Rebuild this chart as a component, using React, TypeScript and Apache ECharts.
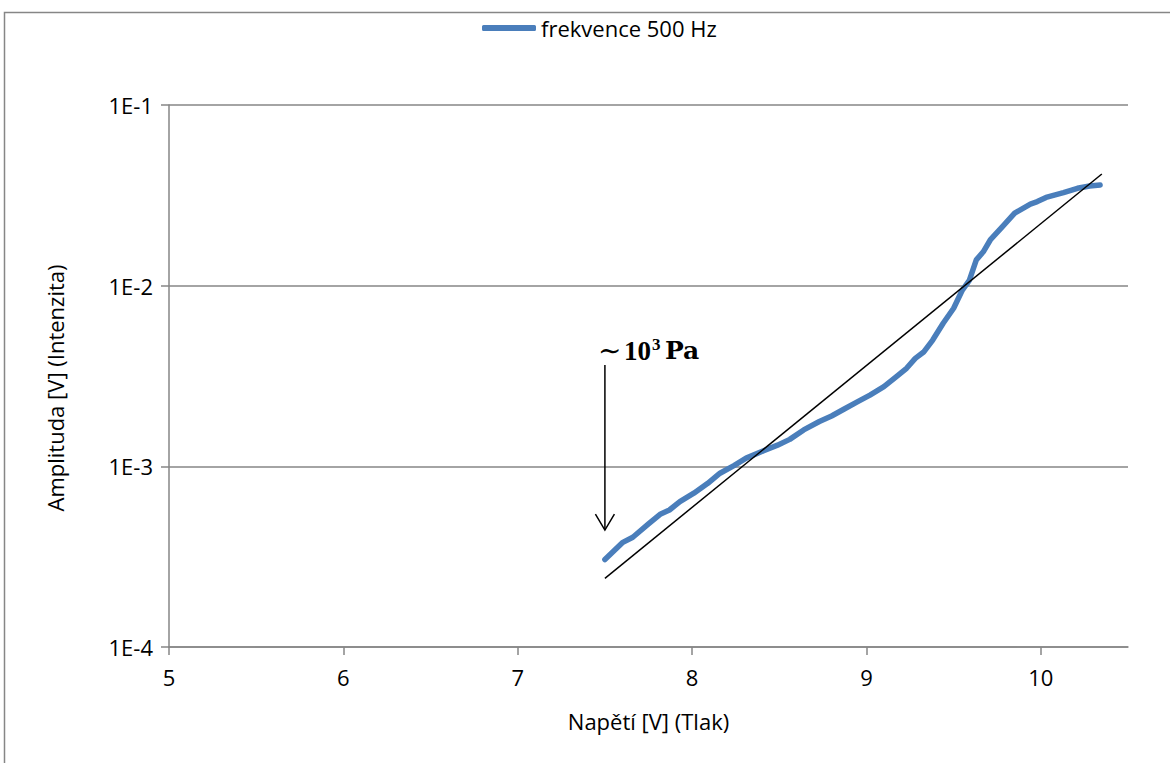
import React, { useEffect, useRef } from "react";
import * as echarts from "echarts";

// Measured series: frekvence 500 Hz (x = Napětí [V], y = Amplituda [V])
const seriesName = "frekvence 500 Hz";
const voltage = [
  7.5, 7.6, 7.66, 7.75, 7.82, 7.87, 7.93, 8.01, 8.09, 8.16, 8.24, 8.31, 8.41, 8.49,
  8.56, 8.64, 8.73, 8.8, 8.87, 8.95, 9.02, 9.1, 9.17, 9.23, 9.28, 9.33, 9.38, 9.44,
  9.5, 9.55, 9.59, 9.61, 9.63, 9.67, 9.71, 9.78, 9.85, 9.94, 9.98, 10.03, 10.13,
  10.21, 10.28, 10.34,
];
const amplitude = [
  3.05e-4, 3.78e-4, 4.05e-4, 4.8e-4, 5.45e-4, 5.73e-4, 6.37e-4, 7.1e-4, 8.05e-4,
  9.16e-4, 1.01e-3, 1.11e-3, 1.22e-3, 1.31e-3, 1.41e-3, 1.59e-3, 1.77e-3, 1.9e-3,
  2.07e-3, 2.28e-3, 2.48e-3, 2.76e-3, 3.13e-3, 3.49e-3, 3.96e-3, 4.31e-3, 5.0e-3,
  6.19e-3, 7.5e-3, 9.46e-3, 1.07e-2, 1.22e-2, 1.39e-2, 1.54e-2, 1.79e-2, 2.12e-2,
  2.52e-2, 2.83e-2, 2.92e-2, 3.08e-2, 3.27e-2, 3.46e-2, 3.56e-2, 3.61e-2,
];

// Exponential trend line (straight on log axis)
const trendX = [7.5, 10.35];
const trendY = [2.4e-4, 0.0415];

// Annotation arrow (x, y top, y tip)
const arrowX = 7.5;
const arrowTopY = 3.64e-3;
const arrowTipY = 4.44e-4;

const xTicks = [5, 6, 7, 8, 9, 10];
const yTicks = [1e-4, 1e-3, 1e-2, 1e-1];
const xTitle = "Napětí [V] (Tlak)";
const yTitle = "Amplituda [V] (Intenzita)";

const FONT = "Open Sans, Lato, sans-serif";
const GRID = "#868686";
const FS = 22;

export default function App() {
  const ref = useRef<HTMLDivElement>(null);

  useEffect(() => {
    if (!ref.current) return;
    const chart = echarts.init(ref.current, null, { renderer: "svg" });
    const data = voltage.map((v, i) => [v, amplitude[i]]);
    const trend = trendX.map((v, i) => [v, trendY[i]]);

    chart.setOption({
      animation: false,
      backgroundColor: "#ffffff",
      textStyle: { fontFamily: FONT },
      legend: {
        data: [{ name: seriesName, icon: "roundRect" }],
        top: 12,
        left: 477,
        itemWidth: 54,
        itemHeight: 6,
        itemGap: 10,
        textStyle: { fontFamily: FONT, fontSize: FS, color: "#000" },
      },
      grid: { left: 169, right: 42, top: 105, bottom: 116, containLabel: false },
      xAxis: {
        type: "value",
        min: 5,
        max: 10.5,
        interval: 1,
        name: xTitle,
        nameLocation: "middle",
        nameGap: 63,
        nameTextStyle: { fontFamily: FONT, fontSize: FS, color: "#000" },
        axisLine: { show: true, onZero: false, lineStyle: { color: GRID, width: 1.5 } },
        axisTick: { show: true, length: 8, customValues: xTicks, lineStyle: { color: GRID, width: 1.5 } },
        axisLabel: {
          customValues: xTicks,
          margin: 19,
          fontFamily: FONT,
          fontSize: FS,
          color: "#000",
        },
        splitLine: { show: false },
      },
      yAxis: {
        type: "log",
        logBase: 10,
        min: 1e-4,
        max: 1e-1,
        name: yTitle,
        nameLocation: "middle",
        nameGap: 103,
        nameRotate: 90,
        nameTextStyle: { fontFamily: FONT, fontSize: FS, color: "#000", padding: [0, 24, 0, 0] },
        axisLine: { show: true, lineStyle: { color: GRID, width: 1.5 } },
        axisTick: { show: true, length: 8, customValues: yTicks, lineStyle: { color: GRID, width: 1.5 } },
        axisLabel: {
          customValues: yTicks,
          margin: 16,
          fontFamily: FONT,
          fontSize: FS,
          color: "#000",
          formatter: (v: number) => "1E" + Math.round(Math.log10(v)),
        },
        splitLine: { show: true, lineStyle: { color: GRID, width: 1.5 } },
        minorTick: { show: false },
      },
      series: [
        {
          name: seriesName,
          type: "line",
          data,
          showSymbol: false,
          symbol: "none",
          color: "#4a7ebb",
          lineStyle: { color: "#4a7ebb", width: 5.5, cap: "round", join: "round" },
          z: 2,
        },
        {
          name: "trend",
          type: "line",
          data: trend,
          showSymbol: false,
          symbol: "none",
          color: "#000",
          lineStyle: { color: "#000", width: 1.5 },
          z: 3,
        },
      ],
    });

    const top = chart.convertToPixel({ gridIndex: 0 }, [arrowX, arrowTopY]) as number[];
    const tip = chart.convertToPixel({ gridIndex: 0 }, [arrowX, arrowTipY]) as number[];
    const ax = top[0];
    const serif = "Liberation Serif, DejaVu Serif, serif";
    const serifWide = "DejaVu Serif, Liberation Serif, serif";
    chart.setOption({
      graphic: [
        {
          type: "rect",
          silent: true,
          shape: { x: 4.5, y: 12.5, width: 1300, height: 900 },
          style: { fill: "none", stroke: GRID, lineWidth: 1.5 },
        },
        {
          type: "line",
          shape: { x1: ax, y1: top[1], x2: tip[0], y2: tip[1] },
          style: { stroke: "#000", lineWidth: 1.5 },
        },
        {
          type: "polyline",
          shape: { points: [[tip[0] - 9.5, tip[1] - 16], [tip[0], tip[1]], [tip[0] + 9.5, tip[1] - 16]] },
          style: { stroke: "#000", lineWidth: 1.5, fill: "none" },
        },
        {
          type: "text",
          x: ax - 7,
          y: top[1] - 14,
          style: { text: "∼", fontFamily: serif, fontSize: 28, fill: "#000", verticalAlign: "middle", align: "left" },
        },
        {
          type: "text",
          x: ax + 19,
          y: top[1] - 14,
          style: { text: "10", fontFamily: serif, fontSize: 27, fontWeight: "bold", fill: "#000", verticalAlign: "middle", align: "left" },
        },
        {
          type: "text",
          x: ax + 47,
          y: top[1] - 20,
          style: { text: "3", fontFamily: serif, fontSize: 17, fontWeight: "bold", fill: "#000", verticalAlign: "middle", align: "left" },
        },
        {
          type: "text",
          x: ax + 60,
          y: top[1] - 14,
          style: { text: "Pa", fontFamily: serifWide, fontSize: 25, fontWeight: "bold", fill: "#000", verticalAlign: "middle", align: "left" },
        },
      ],
    });

    return () => chart.dispose();
  }, []);

  return (
    <div
      ref={ref}
      style={{ position: "fixed", left: 0, top: 0, width: 1170, height: 763, background: "#fff" }}
    />
  );
}
